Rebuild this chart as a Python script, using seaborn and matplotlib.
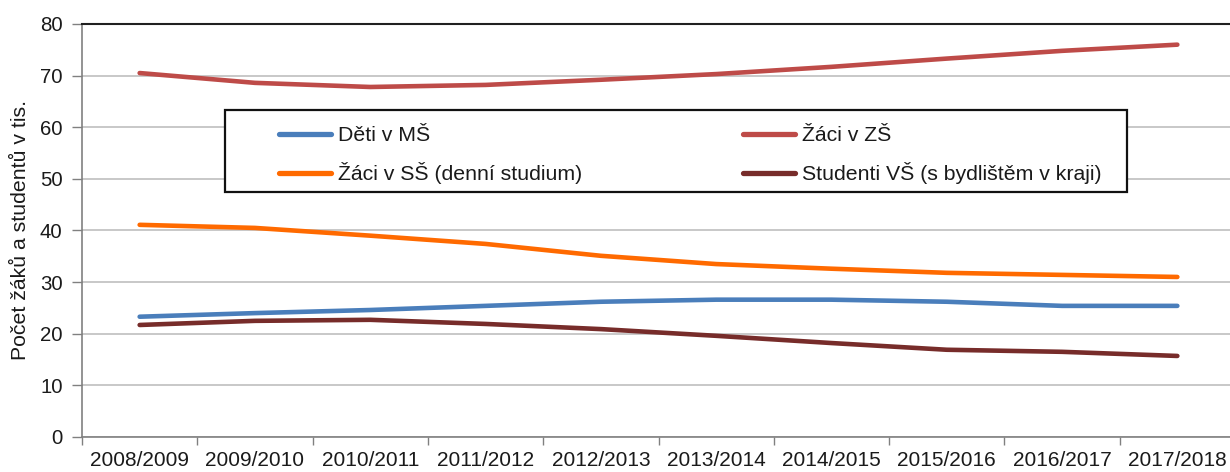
import numpy as np
import pandas as pd
import matplotlib
matplotlib.use("Agg")
import matplotlib.pyplot as plt
import matplotlib.patches as mpatches
import seaborn as sns

years = ["2008/2009", "2009/2010", "2010/2011", "2011/2012", "2012/2013",
         "2013/2014", "2014/2015", "2015/2016", "2016/2017", "2017/2018"]
deti_ms = [23.3, 24.0, 24.6, 25.4, 26.2, 26.6, 26.6, 26.2, 25.4, 25.4]
zaci_zs = [70.5, 68.6, 67.8, 68.2, 69.2, 70.3, 71.7, 73.3, 74.8, 76.0]
zaci_ss = [41.1, 40.5, 39.0, 37.4, 35.1, 33.5, 32.6, 31.8, 31.4, 31.0]
studenti_vs = [21.7, 22.5, 22.7, 21.9, 20.9, 19.6, 18.2, 16.9, 16.5, 15.7]

names = ["Děti v MŠ", "Žáci v ZŠ", "Žáci v SŠ (denní studium)", "Studenti VŠ (s bydlištěm v kraji)"]
series = [deti_ms, zaci_zs, zaci_ss, studenti_vs]
colors = ["#4A7EBB", "#BE4B48", "#FF6A00", "#772C2A"]

rows = []
for n, s in zip(names, series):
    for i, (y, v) in enumerate(zip(years, s)):
        rows.append({"pos": i, "rok": y, "hodnota": v, "serie": n})
df = pd.DataFrame(rows)

sns.set_theme(style="white")
plt.rcParams["font.family"] = ["Liberation Sans", "DejaVu Sans"]
txt = "#1a1a1a"

W, H = 1230, 472
fig = plt.figure(figsize=(W / 100, H / 100), dpi=100)
ax = fig.add_axes([82 / W, 35 / H, (1235 - 82) / W, (437 - 24) / H])

sns.lineplot(data=df, x="pos", y="hodnota", hue="serie", hue_order=names,
             palette=dict(zip(names, colors)), linewidth=3.3, ax=ax,
             legend=False, sort=True)
for l in ax.get_lines():
    l.set_solid_capstyle("round")

ax.set_ylim(0, 80)
ax.set_xlim(-0.5, 9.5)
ax.set_yticks(np.arange(0, 81, 10))
ax.yaxis.grid(True, color="#BFBFBF", linewidth=1.2)
ax.set_axisbelow(True)
ax.set_xticks(np.arange(-0.5, 10, 1))
ax.set_xticklabels([])
ax.set_xticks(np.arange(0, 10), minor=True)
ax.set_xticklabels(years, minor=True, fontsize=15, color=txt)
ax.tick_params(axis="x", which="major", direction="out", length=6, width=1, color="#808080", bottom=True)
ax.tick_params(axis="x", which="minor", length=0, pad=10)
ax.tick_params(axis="y", direction="out", length=7, width=1, color="#808080",
               labelsize=14.7, labelcolor=txt, left=True, pad=7)
ax.set_xlabel("")
ax.set_ylabel("Počet žáků a studentů v tis.", fontsize=15.3, labelpad=7, color=txt)

for side in ["left", "bottom"]:
    ax.spines[side].set_color("#808080")
    ax.spines[side].set_linewidth(1.2)
ax.spines["top"].set_color("#202020")
ax.spines["top"].set_linewidth(1.5)
ax.spines["right"].set_visible(False)

# legend frame
frame = mpatches.Rectangle((225 / W, 1 - 192 / H), (1127 - 225) / W, (192 - 110) / H,
                           transform=fig.transFigure, facecolor="white",
                           edgecolor="#111111", linewidth=1.6, zorder=5)
fig.patches.append(frame)

handles = [matplotlib.lines.Line2D([], [], color=c, linewidth=3.8, solid_capstyle="round") for c in colors]
order = [0, 2, 1, 3]
fs = 15.3
leg = fig.legend([handles[i] for i in order], [names[i] for i in order], ncol=2,
                 loc="upper left", bbox_to_anchor=(279 / W, 1 - 126 / H),
                 bbox_transform=fig.transFigure,
                 frameon=False, fontsize=fs, handlelength=2.45, handletextpad=0.33,
                 columnspacing=7.55, borderpad=0, labelspacing=0.81, borderaxespad=0)
leg.set_zorder(6)
for t in leg.get_texts():
    t.set_color(txt)

fig.savefig("out.png", dpi=100)
